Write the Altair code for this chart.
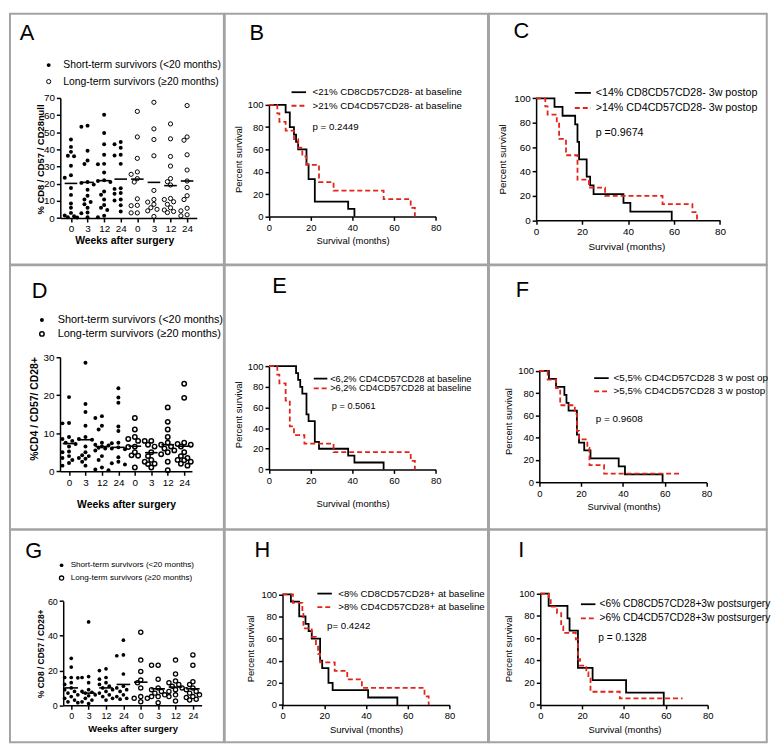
import altair as alt
import pandas as pd

S = 0.978
FONT = "Liberation Sans"
RED = "#e3241b"

COL_EDGES = [0, 221, 493, 780]
ROW_EDGES = [0, 259, 532, 752]

GROUP_LABELS = ["0", "3", "12", "24", "0", "3", "12", "24"]
SHORT_LABEL = "Short-term survivors (<20 months)"
LONG_LABEL = "Long-term survivors (\u226520 months)"

# ---------------- scatter data (percent), groups: weeks 0,3,12,24 ----------------
A_short = [
    [45.8, 41.5, 38.6, 36.3, 36.0, 30.5, 25.0, 23.5, 17.5, 13.5, 8.5, 6.0, 3.0, 1.5, 1.0, 0.5, 0.3],
    [53.3, 53.9, 39.2, 33.5, 31.5, 21.0, 20.5, 19.5, 16.5, 13.0, 10.8, 9.3, 8.0, 6.0, 3.2, 2.8, 0.4],
    [60.3, 49.6, 43.0, 36.9, 31.6, 31.4, 26.5, 22.0, 21.6, 21.0, 15.5, 13.6, 10.8, 7.6, 6.0, 4.7, 1.3, 0.4],
    [44.3, 43.0, 41.0, 36.9, 36.5, 31.6, 17.4, 17.0, 14.6, 14.2, 10.8, 10.2, 7.4, 3.8],
]
A_long = [
    [62.2, 47.3, 34.8, 26.9, 25.5, 23.0, 21.0, 11.2, 7.4, 7.2, 3.0, 3.0],
    [67.5, 52.0, 45.8, 36.3, 16.1, 10.8, 9.3, 8.0, 6.0, 5.1, 4.2, 0.9],
    [54.9, 46.2, 35.9, 30.3, 23.0, 21.2, 19.3, 11.4, 10.8, 9.5, 8.0, 6.0, 4.7, 3.8, 3.2],
    [65.6, 47.3, 45.4, 36.9, 28.0, 21.6, 17.8, 13.0, 10.8, 5.7, 4.2, 1.9, 1.3],
]
A_means = [20.2, 20.8, 21.8, 22.7, 22.7, 20.8, 18.9, 21.6]

D_short = [
    [19.5, 12.7, 12.6, 9.0, 8.5, 8.0, 7.5, 7.2, 6.5, 5.2, 5.0, 4.0, 3.5, 3.0, 2.2, 1.5],
    [28.5, 17.7, 15.6, 12.0, 9.0, 8.5, 8.3, 6.5, 5.0, 4.2, 4.0, 3.5, 3.3, 2.5, 1.5],
    [14.5, 14.0, 12.0, 11.0, 7.5, 7.0, 6.8, 6.5, 6.2, 6.0, 5.5, 4.0, 3.0, 1.0, 0.5, 0.3],
    [21.8, 19.4, 18.0, 11.8, 10.6, 7.5, 7.4, 6.3, 6.0, 5.8, 3.7, 2.5, 2.1, 1.8],
]
D_long = [
    [14.0, 11.0, 9.0, 8.5, 8.0, 6.5, 6.4, 5.0, 4.2, 4.1, 1.0],
    [8.0, 8.0, 7.0, 6.5, 5.0, 4.0, 3.0, 2.5, 2.0, 1.9, 1.0],
    [16.8, 13.0, 11.0, 9.0, 7.5, 7.0, 6.5, 6.0, 5.5, 5.0, 4.5, 2.5, 0.3],
    [23.0, 19.3, 7.5, 7.2, 7.0, 6.5, 5.0, 4.0, 3.5, 3.0, 2.9, 2.5, 2.0, 1.5],
]
D_means = [7.3, 8.3, 6.5, 6.3, 6.6, 4.9, 7.0, 6.6]

G_short = [
    [27, 22, 16, 16, 15.8, 13, 12, 10, 9, 8, 7, 6, 5, 4, 3, 2, 1.5],
    [48, 16.5, 16, 13, 9, 8, 7.5, 7, 6, 5.5, 4, 3, 2, 1],
    [21, 20, 16, 15, 13, 12, 11, 10, 9, 8, 7, 6, 5, 4, 3],
    [37.5, 29, 28.5, 18, 11, 10, 9, 8, 6, 5, 4, 3.5],
]
G_long = [
    [42, 26, 19.5, 14.5, 13, 10, 5, 4, 4, 2],
    [23, 23, 15, 10, 9, 8, 7, 6, 5, 5, 1.5],
    [26, 18, 14, 13, 12, 11, 10, 9, 8, 6, 5, 2.5],
    [29, 23, 13.5, 12, 10, 9, 8, 7, 6, 5, 4.5, 3.5, 3],
]
G_means = [10, 7, 10, 12, 13.3, 9.5, 10.5, 9.5]

# ---------------- Kaplan-Meier curves (months, percent survival) ----------------
B_low_t = [0, 8, 10, 12, 13, 14, 18, 19, 22, 38, 41]
B_low_s = [100, 93.3, 80, 73.3, 66.7, 60, 46.7, 33.3, 13.3, 6.7, 0]
B_high_t = [0, 4, 5, 8, 12, 14, 16, 18, 24, 31, 55, 68, 70]
B_high_s = [100, 92.3, 84.6, 76.9, 69.2, 61.5, 53.8, 46.2, 30.8, 23.1, 15.4, 7.7, 0]

C_low_t = [0, 8, 11.5, 17, 18, 18.7, 22, 23.5, 25, 38, 41, 59]
C_low_s = [100, 92.9, 85.7, 78.6, 64.3, 50, 35.7, 28.6, 21.4, 14.3, 7.1, 0]
C_high_t = [0, 4, 5, 9, 10, 13, 18, 23, 30, 55, 68, 70]
C_high_s = [100, 93.3, 86.7, 80, 66.7, 53.3, 33.3, 26.7, 20, 13.3, 6.7, 0]

E_low_t = [0, 13, 14, 15, 16, 18, 19, 22, 24, 38, 41, 55]
E_low_s = [100, 93.3, 86.7, 80, 73.3, 53.3, 46.7, 26.7, 20, 13.3, 6.7, 0]
E_high_t = [0, 4, 5, 8, 10, 12, 17, 31, 68, 70]
E_high_s = [100, 91.7, 83.3, 66.7, 41.7, 33.3, 25, 16.7, 8.3, 0]

F_low_t = [0, 4.6, 8, 12, 13, 14, 18, 19, 21.5, 24.5, 38, 41, 59]
F_low_s = [100, 92.9, 85.7, 78.6, 71.4, 64.3, 42.9, 35.7, 28.6, 21.4, 14.3, 7.1, 0]
F_high_t = [0, 4, 8, 10, 17, 18, 19, 23, 24, 31, 68]
F_high_s = [100, 92.3, 84.6, 69.2, 61.5, 46.2, 38.5, 30.8, 15.4, 7.7, 7.7]

H_low_t = [0, 4, 8, 11, 12.5, 14, 18, 19, 22, 24, 41, 55]
H_low_s = [100, 93.3, 80, 73.3, 66.7, 60, 40, 33.3, 20, 13.3, 6.7, 0]
H_high_t = [0, 5, 9.5, 10, 14, 16, 17, 18, 25, 31, 38, 68, 70]
H_high_s = [100, 92.3, 84.6, 69.2, 61.5, 53.8, 46.2, 38.5, 30.8, 23.1, 15.4, 7.7, 0]

I_low_t = [0, 4, 13, 14, 18, 25, 41, 59]
I_low_s = [100, 88.9, 77.8, 66.7, 33.3, 22.2, 11.1, 0]
I_high_t = [0, 4, 5, 8, 10, 11, 17, 18, 19, 22, 23, 24, 38, 68]
I_high_s = [100, 94.1, 88.2, 82.4, 70.6, 64.7, 58.8, 41.2, 35.3, 29.4, 23.5, 11.8, 5.9, 5.9]


def cell(col, row):
    ox, oy = COL_EDGES[col], ROW_EDGES[row]
    W = round((COL_EDGES[col + 1] - ox) * S, 2)
    H = round((ROW_EDGES[row + 1] - oy) * S, 2)
    return (lambda x: round((x - ox) * S, 2)), (lambda y: round((y - oy) * S, 2)), W, H


def one():
    return pd.DataFrame({"k": [0]})


def text_layer(txt, x, y, size, align="left", weight="normal", baseline="middle"):
    return alt.Chart(one()).mark_text(
        text=txt, align=align, baseline=baseline, font=FONT, fontSize=size,
        fontWeight=weight, color="black"
    ).encode(x=alt.value(x), y=alt.value(y))


def swarm(values, px_per_unit, diam, step, kmax=2):
    """Place dots side by side when they would collide (in reference px)."""
    order = sorted(range(len(values)), key=lambda i: -values[i])
    placed = []
    res = [0.0] * len(values)
    ks = [0]
    for k in range(1, kmax + 1):
        ks += [-k, k]
    for i in order:
        yv = values[i] * px_per_unit
        best_x, best_d = 0.0, -1.0
        for k in ks:
            xo = k * step
            d = min([((xo - px) ** 2 + (yv - py) ** 2) ** 0.5 for px, py in placed] or [1e9])
            if d >= diam:
                best_x = xo
                break
            if d > best_d:
                best_x, best_d = xo, d
        placed.append((best_x, yv))
        res[i] = best_x
    return res


def scatter_panel(cfg, short, long_, means):
    L, T, W, H = cell(cfg["col"], cfg["row"])
    step = (cfg["idx7"] - cfg["idx0"]) / 7.0
    dom_x = [(cfg["ax_x0"] - cfg["idx0"]) / step, (cfg["ax_x1"] - cfg["idx0"]) / step]
    xscale = alt.Scale(domain=dom_x, range=[L(cfg["ax_x0"]), L(cfg["ax_x1"])], nice=False, zero=False)
    yscale = alt.Scale(domain=[0, cfg["ymax"]], range=[T(cfg["y0"]), T(cfg["ytop"])], nice=False, zero=False)
    lab_expr = "[" + ",".join("'%s'" % g for g in GROUP_LABELS) + "][datum.value]"
    xaxis = alt.Axis(
        values=list(range(8)), labelExpr=lab_expr, title="Weeks after surgery",
        offset=-(H - T(cfg["y0"])), titleX=L(cfg["xt"][0]), titleY=T(cfg["xt"][1]) - T(cfg["y0"]),
        titleAlign="center", titleBaseline="middle", titleFontWeight="bold",
        titleFontSize=cfg["xt_size"], labelFontSize=cfg["tick_size"], labelFlush=False,
        labelOverlap=False, grid=False,
    )
    yaxis = alt.Axis(
        values=cfg["yticks"], title=cfg["ytitle"], offset=-L(cfg["ax_x0"]),
        titleX=L(cfg["yt"][0]) - L(cfg["ax_x0"]), titleY=T(cfg["yt"][1]), titleAngle=270,
        titleAlign="center", titleBaseline="middle", titleFontWeight="bold",
        titleFontSize=cfg["yt_size"], labelFontSize=cfg["tick_size"], labelFlush=False,
        labelOverlap=False, grid=False,
    )
    px_unit = (cfg["y0"] - cfg["ytop"]) / cfg["ymax"]
    rows_s, rows_l = [], []
    for g in range(8):
        vals = short[g] if g < 4 else long_[g - 4]
        offs = swarm(vals, px_unit, cfg["diam"], cfg["jstep"])
        for v, o in zip(vals, offs):
            rec = {"x": g + o / step, "v": v}
            (rows_s if g < 4 else rows_l).append(rec)
    df_s = pd.DataFrame(rows_s)
    df_l = pd.DataFrame(rows_l)
    half = cfg["mean_half"] / step
    df_m = pd.DataFrame({"x": [g - half for g in range(8)], "x2": [g + half for g in range(8)], "v": means})

    X = alt.X("x:Q", scale=xscale, axis=xaxis)
    Y = alt.Y("v:Q", scale=yscale, axis=yaxis)
    layers = [
        alt.Chart(df_s).mark_point(filled=True, color="black", size=cfg["psize"], opacity=1).encode(x=X, y=Y),
        alt.Chart(df_l).mark_point(filled=False, color="black", size=cfg["osize"], strokeWidth=cfg["ostroke"], opacity=1).encode(x=X, y=Y),
        alt.Chart(df_m).mark_rule(color="black", strokeWidth=1.6).encode(x=X, x2="x2:Q", y=Y),
        alt.Chart(one()).mark_point(filled=True, color="black", size=cfg["psize"], opacity=1).encode(
            x=alt.value(L(cfg["leg_mx"])), y=alt.value(T(cfg["leg_y"][0]))),
        alt.Chart(one()).mark_point(filled=False, color="black", size=cfg["osize"], strokeWidth=cfg["ostroke"], opacity=1).encode(
            x=alt.value(L(cfg["leg_mx"])), y=alt.value(T(cfg["leg_y"][1]))),
        text_layer(SHORT_LABEL, L(cfg["leg_tx"]), T(cfg["leg_y"][0]), cfg["leg_size"]),
        text_layer(LONG_LABEL, L(cfg["leg_tx"]), T(cfg["leg_y"][1]), cfg["leg_size"]),
        text_layer(cfg["letter"][0], L(cfg["letter"][1]), T(cfg["letter"][2]), 22, align="center", baseline="alphabetic"),
    ]
    return alt.layer(*layers).properties(width=W, height=H)


def km_panel(cfg, low_t, low_s, high_t, high_s):
    L, T, W, H = cell(cfg["col"], cfg["row"])
    xscale = alt.Scale(domain=[0, 80], range=[L(cfg["x0"]), L(cfg["x80"])], nice=False, zero=False)
    yscale = alt.Scale(domain=[0, 100], range=[T(cfg["y0"]), T(cfg["y100"])], nice=False, zero=False)
    xaxis = alt.Axis(
        values=[0, 20, 40, 60, 80], title="Survival (months)", offset=-(H - T(cfg["y0"])),
        titleX=L(cfg["xt"][0]), titleY=T(cfg["xt"][1]) - T(cfg["y0"]), titleAlign="center",
        titleBaseline="middle", titleFontWeight="normal", titleFontSize=cfg["title_size"],
        labelFontSize=cfg["tick_size"], labelFlush=False, labelOverlap=False, grid=False,
    )
    yaxis = alt.Axis(
        values=[0, 20, 40, 60, 80, 100], title="Percent survival", offset=-L(cfg["x0"]),
        titleX=L(cfg["yt"][0]) - L(cfg["x0"]), titleY=T(cfg["yt"][1]), titleAngle=270,
        titleAlign="center", titleBaseline="middle", titleFontWeight="normal",
        titleFontSize=cfg["title_size"], labelFontSize=cfg["tick_size"], labelFlush=False,
        labelOverlap=False, grid=False,
    )
    X = alt.X("t:Q", scale=xscale, axis=xaxis)
    Y = alt.Y("s:Q", scale=yscale, axis=yaxis)
    df_low = pd.DataFrame({"t": low_t, "s": low_s})
    df_high = pd.DataFrame({"t": high_t, "s": high_s})
    lx0, lx1 = L(cfg["leg_line"][0]), L(cfg["leg_line"][1])
    ly0, ly1 = T(cfg["leg_y"][0]), T(cfg["leg_y"][1])
    layers = [
        alt.Chart(df_low).mark_line(interpolate="step-after", color="black", strokeWidth=1.8).encode(x=X, y=Y),
        alt.Chart(df_high).mark_line(interpolate="step-after", color=RED, strokeWidth=1.8, strokeDash=[5, 3]).encode(x=X, y=Y),
        alt.Chart(one()).mark_rule(color="black", strokeWidth=1.8).encode(
            x=alt.value(lx0), x2=alt.value(lx1), y=alt.value(ly0)),
        alt.Chart(one()).mark_rule(color=RED, strokeWidth=1.8, strokeDash=[5, 3]).encode(
            x=alt.value(lx0), x2=alt.value(lx1), y=alt.value(ly1)),
        text_layer(cfg["leg_texts"][0], L(cfg["leg_tx"]), ly0, cfg["leg_size"]),
        text_layer(cfg["leg_texts"][1], L(cfg["leg_tx"]), ly1, cfg["leg_size"]),
        text_layer(cfg["p"][2], L(cfg["p"][0]), T(cfg["p"][1]), cfg["leg_size"]),
        text_layer(cfg["letter"][0], L(cfg["letter"][1]), T(cfg["letter"][2]), 22, align="center", baseline="alphabetic"),
    ]
    return alt.layer(*layers).properties(width=W, height=H)


A = scatter_panel(dict(col=0, row=0, ax_x0=52, ax_x1=193, idx0=63, idx7=183, y0=211, ytop=87, ymax=70,
                       yticks=list(range(0, 71, 10)), ytitle="% CD8 / CD57 / CD28null", yt=(31.7, 150), yt_size=9.5,
                       xt=(118, 234), xt_size=10.5, tick_size=10, leg_mx=40, leg_tx=55, leg_y=(53, 70), leg_size=10.5,
                       letter=("A", 17.5, 27), psize=16, osize=18, ostroke=1, diam=4.2, jstep=3.2, mean_half=6.5),
                  A_short, A_long, A_means)
D = scatter_panel(dict(col=0, row=1, ax_x0=51.7, ax_x1=188, idx0=61, idx7=180, y0=472, ytop=354, ymax=30,
                       yticks=[0, 10, 20, 30], ytitle="%CD4 / CD57/ CD28+", yt=(25, 407), yt_size=10.5,
                       xt=(120, 506), xt_size=10.5, tick_size=10, leg_mx=33, leg_tx=49.3, leg_y=(315.7, 330), leg_size=11,
                       letter=("D", 30.5, 293), psize=16, osize=20, ostroke=1.5, diam=4.5, jstep=3.4, mean_half=6.5),
                  D_short, D_long, D_means)
G = scatter_panel(dict(col=0, row=2, ax_x0=55, ax_x1=198, idx0=63.3, idx7=189, y0=713.7, ytop=606, ymax=60,
                       yticks=[0, 20, 40, 60], ytitle="% CD8 / CD57 / CD28+", yt=(31.7, 660), yt_size=8.5,
                       xt=(126.7, 737.3), xt_size=9.5, tick_size=9, leg_mx=53.3, leg_tx=62.7, leg_y=(569, 582.3), leg_size=8.2,
                       letter=("G", 24.5, 562), psize=14, osize=18, ostroke=1.3, diam=4.2, jstep=3.4, mean_half=7),
                  G_short, G_long, G_means)

B = km_panel(dict(col=1, row=0, x0=266.7, x80=439, y100=94, y0=209.3, yt=(235, 150), xt=(353, 234),
                  leg_line=(290, 305), leg_y=(81, 95), leg_tx=311.7, leg_size=9.8,
                  leg_texts=("<21% CD8CD57CD28- at baseline", ">21% CD4CD57CD28- at baseline"),
                  p=(311.7, 117, "p = 0.2449"), letter=("B", 254, 27), tick_size=9.5, title_size=9.5),
             B_low_t, B_low_s, B_high_t, B_high_s)
C = km_panel(dict(col=2, row=0, x0=541.7, x80=731.7, y100=87.3, y0=213.3, yt=(506.7, 150), xt=(635, 240),
                  leg_line=(581.7, 598.3), leg_y=(81.7, 97.3), leg_tx=603.3, leg_size=10.8,
                  leg_texts=("<14% CD8CD57CD28- 3w postop", ">14% CD4CD57CD28- 3w postop"),
                  p=(603.3, 123, "p =0.9674"), letter=("C", 526.5, 25), tick_size=10, title_size=10),
             C_low_t, C_low_s, C_high_t, C_high_s)
E = km_panel(dict(col=1, row=1, x0=266.7, x80=439, y100=363.3, y0=470, yt=(235, 413), xt=(353, 505),
                  leg_line=(313, 327), leg_y=(376.2, 386.2), leg_tx=330, leg_size=9.3,
                  leg_texts=("<6,2% CD4CD57CD28 at baseline", ">6,2% CD4CD57CD28 at baseline"),
                  p=(331.7, 405, "p = 0.5061"), letter=("E", 277.5, 288), tick_size=9.5, title_size=9.5),
             E_low_t, E_low_s, E_high_t, E_high_s)
F = km_panel(dict(col=2, row=1, x0=545, x80=717.7, y100=368.3, y0=483.3, yt=(513, 420), xt=(632, 508),
                  leg_line=(601.7, 616.7), leg_y=(375.7, 389.3), leg_tx=621.7, leg_size=10,
                  leg_texts=("<5,5% CD4CD57CD28 3 w post op", ">5,5% CD4CD57CD28 3 w postop"),
                  p=(603.3, 418, "p = 0.9608"), letter=("F", 527.5, 292), tick_size=9.5, title_size=9.5),
             F_low_t, F_low_s, F_high_t, F_high_s)
H_ = km_panel(dict(col=1, row=2, x0=280.7, x80=453.3, y100=599, y0=713.3, yt=(248, 655), xt=(367, 739),
                   leg_line=(316.7, 331.7), leg_y=(598.3, 612.3), leg_tx=338.3, leg_size=9.8,
                   leg_texts=("<8% CD8CD57CD28+ at baseline", ">8% CD4CD57CD28+ at baseline"),
                   p=(326.7, 631.7, "p= 0.4242"), letter=("H", 260, 560), tick_size=9.5, title_size=9.5),
              H_low_t, H_low_s, H_high_t, H_high_s)
I_ = km_panel(dict(col=2, row=2, x0=546, x80=719, y100=598.3, y0=713.3, yt=(513, 655), xt=(633, 739),
                   leg_line=(588, 603), leg_y=(609.3, 624), leg_tx=607.3, leg_size=10.3,
                   leg_texts=("<6% CD8CD57CD28+3w postsurgery", ">6% CD4CD57CD28+3w postsurgery"),
                   p=(606, 644, "p = 0.1328"), letter=("I", 526.5, 560), tick_size=9.5, title_size=9.5),
              I_low_t, I_low_s, I_high_t, I_high_s)

chart = alt.concat(A, B, C, D, E, F, G, H_, I_, columns=3, spacing=0, bounds="flush").properties(
    padding={"left": 1, "top": 1, "right": 1, "bottom": 1}
).configure_view(
    stroke="#a3a3a3", strokeWidth=2
).configure_axis(
    labelFont=FONT, titleFont=FONT, labelColor="black", titleColor="black",
    domainColor="black", tickColor="black", domainWidth=1.5, tickWidth=1.5, tickSize=4,
    labelPadding=2, grid=False
).configure_text(font=FONT)

chart.save("out.html", embed_options={"renderer": "svg", "actions": False})
